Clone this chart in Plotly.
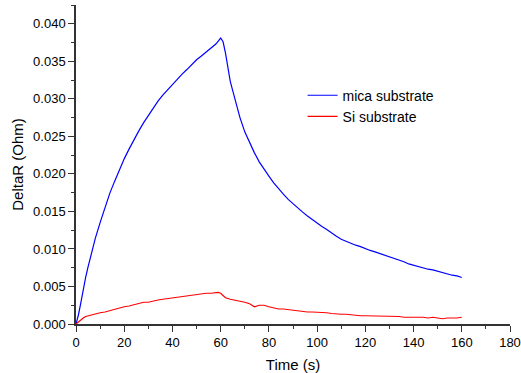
import plotly.graph_objects as go

time_s = [0, 1, 2, 3, 4, 5, 6, 8, 10, 12, 14, 16, 18, 20, 22, 24, 26, 28, 30, 32, 34, 36, 38, 40,
          42, 44, 46, 48, 50, 52, 54, 56, 58, 59, 60, 61, 62, 64, 66, 68, 70, 72, 74, 76, 78, 80,
          82, 84, 86, 88, 90, 92, 94, 96, 98, 100, 102, 104, 106, 108, 110, 112, 114, 116, 118, 120,
          122, 124, 126, 128, 130, 132, 134, 136, 138, 140, 142, 144, 146, 148, 150, 152, 154, 156, 158, 160]

mica = [0.0, 0.0012, 0.0028, 0.0046, 0.0062, 0.0076, 0.0090, 0.0114, 0.0135, 0.0155, 0.0174, 0.0190,
        0.0206, 0.0220, 0.0233, 0.0246, 0.0257, 0.0268, 0.0278, 0.0288, 0.0297, 0.0305, 0.0312, 0.0319,
        0.0327, 0.0333, 0.0339, 0.0346, 0.0352, 0.0357, 0.0362, 0.0367, 0.0373, 0.0377, 0.0381, 0.0376,
        0.0361, 0.0323, 0.0297, 0.0275, 0.0256, 0.0241, 0.0228, 0.0216, 0.0206, 0.0197,
        0.0188, 0.0180, 0.0173, 0.0166, 0.0160, 0.0154, 0.0149, 0.0144, 0.0139, 0.0134, 0.0130, 0.0126,
        0.0121, 0.0117, 0.0113, 0.0110, 0.0108, 0.0105, 0.0103, 0.0100, 0.0098, 0.0096, 0.0094, 0.0091,
        0.0089, 0.0087, 0.0085, 0.0083, 0.0080, 0.0078, 0.0077, 0.0075, 0.0073, 0.0072, 0.0070, 0.0069,
        0.0067, 0.0065, 0.0064, 0.0062]

si = [0.0, 0.0003, 0.0006, 0.0008, 0.0010, 0.0011, 0.0012, 0.0014, 0.0015, 0.0016, 0.0018, 0.0020,
      0.0022, 0.0023, 0.0024, 0.0026, 0.0028, 0.0029, 0.0029, 0.0031, 0.0032, 0.0033, 0.0034, 0.0035,
      0.0036, 0.0037, 0.0038, 0.0039, 0.0040, 0.0040, 0.0041, 0.0041, 0.0042, 0.0042, 0.0041, 0.0038,
      0.0035, 0.0033, 0.0032, 0.0030, 0.0029, 0.0027, 0.0023, 0.0025, 0.0025, 0.0023,
      0.0021, 0.0020, 0.0020, 0.0019, 0.0018, 0.0018, 0.0017, 0.0016, 0.0016, 0.0016, 0.0015, 0.0015,
      0.0014, 0.0013, 0.0013, 0.0013, 0.0012, 0.0012, 0.0011, 0.0011, 0.0011, 0.0011, 0.0011, 0.0010,
      0.0010, 0.0010, 0.0010, 0.0009, 0.0009, 0.0009, 0.0009, 0.0009, 0.0008, 0.0009, 0.0008, 0.0007,
      0.0008, 0.0008, 0.0008, 0.0009]

series_names = ["mica substrate", "Si substrate"]

fig = go.Figure()
fig.add_trace(go.Scatter(x=time_s, y=mica, mode="lines", name=series_names[0],
                         line=dict(color="#0000ff", width=1.2)))
fig.add_trace(go.Scatter(x=time_s, y=si, mode="lines", name=series_names[1],
                         line=dict(color="#ff0000", width=1.2)))

font_family = "Liberation Sans, Arial, sans-serif"
axis_common = dict(
    showline=True, linecolor="#333333", linewidth=1.5, mirror=False, automargin=False,
    showgrid=False, zeroline=False, ticks="outside", ticklen=6, tickwidth=1.2,
    tickcolor="#333333", tickfont=dict(family=font_family, size=13, color="#000000"),
)

fig.update_layout(
    width=521, height=373,
    margin=dict(l=76, r=11, t=5, b=49),
    paper_bgcolor="white", plot_bgcolor="white",
    font=dict(family=font_family, color="#000000"),
    xaxis=dict(range=[0, 180], dtick=20, tick0=0,
               minor=dict(ticks="outside", ticklen=3, dtick=10, tickcolor="#333333", tickwidth=1),
               title=dict(text="Time (s)", font=dict(size=15), standoff=10),
               **axis_common),
    yaxis=dict(range=[0, 0.0425], dtick=0.005, tick0=0, tickformat=".3f",
               minor=dict(ticks="outside", ticklen=3, dtick=0.0025, tickcolor="#333333", tickwidth=1),
               title=dict(text="DeltaR (Ohm)", font=dict(size=15), standoff=6),
               **axis_common),
    legend=dict(x=0.522, y=0.766, xanchor="left", yanchor="top",
                bgcolor="rgba(0,0,0,0)", font=dict(size=14), tracegroupgap=0,
                itemwidth=30),
    showlegend=True,
)

fig.write_html("out.html", config={"displayModeBar": False},
               post_script="document.body.style.margin='0';")
